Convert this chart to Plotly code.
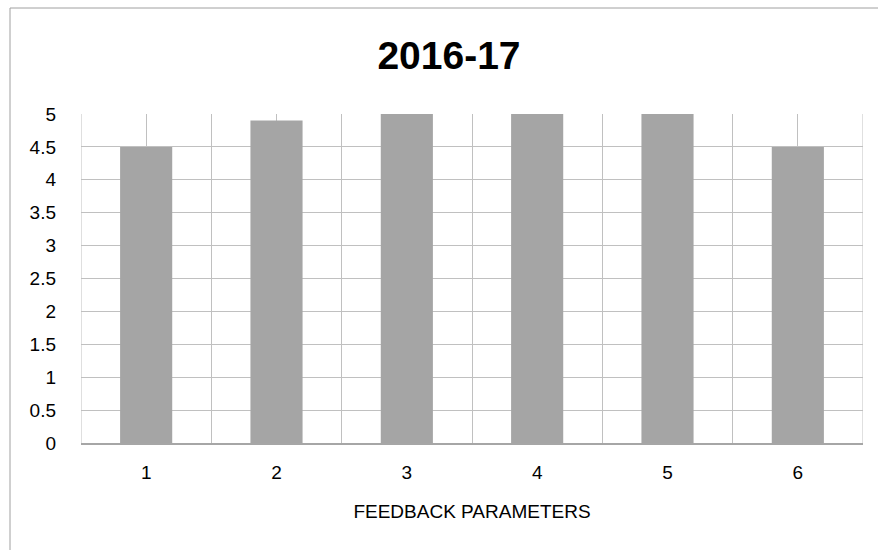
import plotly.graph_objects as go

categories = [1, 2, 3, 4, 5, 6]
values = [4.5, 4.9, 5, 5, 5, 4.5]
y_ticks = [0, 0.5, 1, 1.5, 2, 2.5, 3, 3.5, 4, 4.5, 5]
y_tick_text = ["0", "0.5", "1", "1.5", "2", "2.5", "3", "3.5", "4", "4.5", "5"]
title_text = "2016-17"
x_title = "FEEDBACK PARAMETERS"

W, H = 878, 550
ml, mr, mt, mb = 81, 15, 114, 107
grid = "#C0C0C0"
font = "Liberation Sans"

fig = go.Figure(go.Bar(x=categories, y=values, marker=dict(color="#A5A5A5", line=dict(width=0)),
                       width=0.4))

pw = W - ml - mr
ph = H - mt - mb

fig.update_layout(
    width=W, height=H,
    margin=dict(l=ml, r=mr, t=mt, b=mb, pad=0),
    paper_bgcolor="white", plot_bgcolor="white",
    showlegend=False,
    title=dict(text="<b>" + title_text + "</b>", x=(10 + 888) / 2 / W, xanchor="center",
               y=1 - 55 / H, yanchor="middle",
               font=dict(family=font, size=39, color="black")),
    font=dict(family=font, color="black"),
)

fig.update_xaxes(
    range=[0.5, 6.5], tickvals=categories, ticktext=[str(c) for c in categories],
    showgrid=True, gridcolor=grid, gridwidth=1,
    minor=dict(tickvals=[0.5, 1.5, 2.5, 3.5, 4.5, 5.5, 6.5], showgrid=True, gridcolor=grid, gridwidth=1),
    ticks="", tickfont=dict(size=19, family=font), ticklabelstandoff=11,
    showline=True, linecolor="#A6A6A6", linewidth=2,
    zeroline=False,
    title=dict(text=x_title, font=dict(size=19, family=font), standoff=23),
)
fig.update_yaxes(
    range=[0, 5], tickvals=y_ticks, ticktext=y_tick_text,
    showgrid=True, gridcolor=grid, gridwidth=1,
    ticks="", tickfont=dict(size=19, family=font), ticklabelstandoff=24,
    zeroline=False, showline=False,
)

# chart border (top and left edges visible)
x_left = (10 - ml) / pw
y_top = (H - mb - 8) / ph
fig.add_shape(type="line", xref="paper", yref="paper", x0=x_left, x1=(W - ml) / pw + 0.05, y0=y_top, y1=y_top,
              line=dict(color="#A0A0A0", width=1))
fig.add_shape(type="line", xref="paper", yref="paper", x0=x_left, x1=x_left, y0=y_top, y1=-mb / ph - 0.05,
              line=dict(color="#A0A0A0", width=1))
# plot-area edge gridlines
fig.add_shape(type="line", xref="x", yref="paper", x0=6.5, x1=6.5, y0=0, y1=1,
              line=dict(color=grid, width=1), layer="below")
fig.add_shape(type="line", xref="x", yref="paper", x0=0.5, x1=0.5, y0=0, y1=1,
              line=dict(color=grid, width=1), layer="below")

fig.write_html("out.html", config={"displayModeBar": False},
               post_script="document.body.style.margin='0px';document.body.style.overflow='hidden';")
